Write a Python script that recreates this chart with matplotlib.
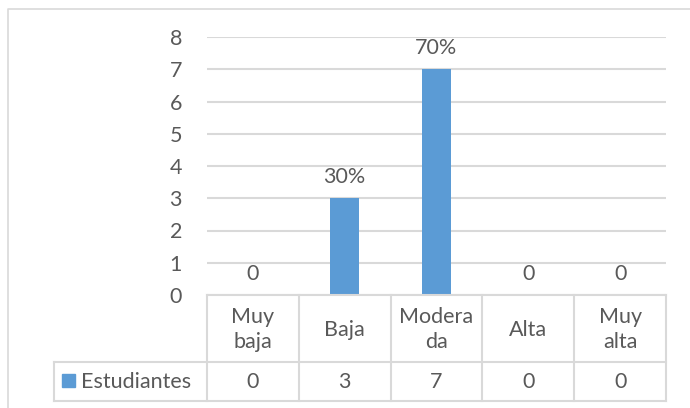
import matplotlib
matplotlib.use("Agg")
import matplotlib.pyplot as plt
from matplotlib.patches import Rectangle
from matplotlib.lines import Line2D

categories = ["Muy\nbaja", "Baja", "Modera\nda", "Alta", "Muy\nalta"]
values = [0, 3, 7, 0, 0]
labels = ["0", "30%", "70%", "0", "0"]
series_name = "Estudiantes"
yticks = [0, 1, 2, 3, 4, 5, 6, 7, 8]

W, H = 690, 408
plt.rcParams['font.family'] = ['Lato', 'DejaVu Sans']
txt = '#595959'
grid = '#d9d9d9'
blue = '#5b9bd5'
fs = 15.5

fig = plt.figure(figsize=(W / 100, H / 100), dpi=100)
fig.patch.set_facecolor('white')

# plot area in pixels
x0, x1 = 207, 666
ytop, ybot = 37, 295
ax = fig.add_axes([x0 / W, 1 - ybot / H, (x1 - x0) / W, (ybot - ytop) / H])
n = len(categories)
ax.set_xlim(-0.5, n - 0.5)
ax.set_ylim(0, 8)
for s in ax.spines.values():
    s.set_visible(False)
ax.set_yticks(yticks)
ax.set_yticklabels([str(t) for t in yticks], fontsize=fs, color=txt)
ax.tick_params(axis='y', length=0, pad=18)
ax.set_xticks([])
ax.grid(axis='y', color=grid, lw=1.5)
ax.set_axisbelow(True)
bars = ax.bar(range(n), values, width=0.31, color=blue, zorder=3)
for i, (v, lab) in enumerate(zip(values, labels)):
    ax.annotate(lab, (i, v), xytext=(0, 8), textcoords='offset points',
                ha='center', va='bottom', fontsize=fs, color=txt)

# overlay in pixel coords for table and border
ov = fig.add_axes([0, 0, 1, 1], zorder=-1)
ov.set_xlim(0, W)
ov.set_ylim(H, 0)
ov.axis('off')
# outer border (top & left)
ov.add_line(Line2D([8, 8, W], [H, 9, 9], color=grid, lw=1.2))

ov2 = fig.add_axes([0, 0, 1, 1])
ov2.set_xlim(0, W)
ov2.set_ylim(H, 0)
ov2.axis('off')
ov2.patch.set_alpha(0)

colw = (x1 - x0) / n
r0, r1, r2 = 295, 362, 401
lx = 54
lc = '#d9d9d9'
lw = 1.5
ov2.add_line(Line2D([x0, x1], [r0, r0], color=lc, lw=lw))
ov2.add_line(Line2D([lx, x1], [r1, r1], color=lc, lw=lw))
ov2.add_line(Line2D([lx, x1], [r2, r2], color=lc, lw=lw))
ov2.add_line(Line2D([lx, lx], [r1, r2], color=lc, lw=lw))
for k in range(n + 1):
    xx = x0 + k * colw
    ov2.add_line(Line2D([xx, xx], [r0, r2], color=lc, lw=lw))
for i, (c, v) in enumerate(zip(categories, values)):
    cx = x0 + (i + 0.5) * colw
    ov2.text(cx, (r0 + r1) / 2 + 1, c, ha='center', va='center', fontsize=fs,
             color=txt, linespacing=1.35)
    ov2.text(cx, (r1 + r2) / 2, str(v), ha='center', va='center', fontsize=fs, color=txt)
ov2.add_patch(Rectangle((62, 374), 13, 13, color=blue))
ov2.text(81, (r1 + r2) / 2, series_name, ha='left', va='center', fontsize=fs, color=txt)

fig.savefig('out.png', dpi=100, facecolor='white')
